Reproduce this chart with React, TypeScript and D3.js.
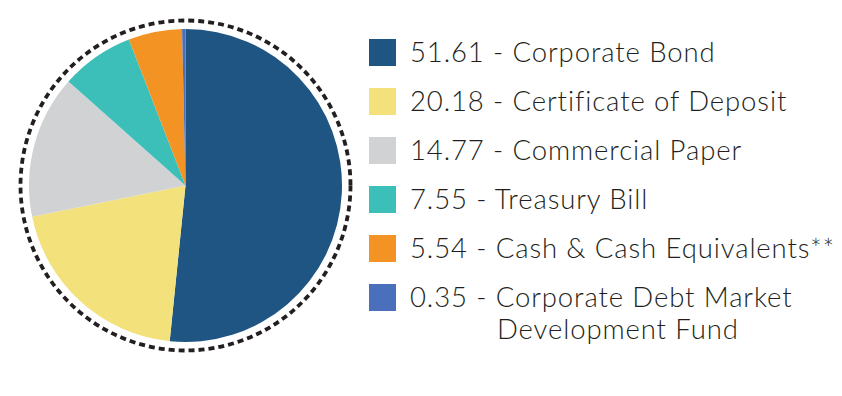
import { useEffect, useRef } from "react"
import * as d3 from "d3"

const labels = [
    "Corporate Bond",
    "Certificate of Deposit",
    "Commercial Paper",
    "Treasury Bill",
    "Cash & Cash Equivalents**",
    "Corporate Debt Market Development Fund",
]
const values = [51.61, 20.18, 14.77, 7.55, 5.54, 0.35]
const colors = ["#1f5582", "#f3e27c", "#d1d2d4", "#3bbfb8", "#f39324", "#4a6fbb"]
// legend line breaks
const legendLines = [
    ["51.61 - Corporate Bond"],
    ["20.18 - Certificate of Deposit"],
    ["14.77 - Commercial Paper"],
    ["7.55 - Treasury Bill"],
    ["5.54 - Cash & Cash Equivalents**"],
    ["0.35 - Corporate Debt Market", "Development Fund"],
]

export default function App() {
    const ref = useRef<SVGSVGElement>(null)

    useEffect(() => {
        const width = 842
        const height = 396
        const cx = 185.5
        const cy = 185.5
        const radius = 156.5

        const svg = d3.select(ref.current)
        svg.selectAll("*").remove()
        svg.attr("width", width).attr("height", height)

        const data = values.map((v, i) => ({ label: labels[i], value: v, color: colors[i] }))
        const pie = d3.pie<{ label: string; value: number; color: string }>()
            .sort(null)
            .value(d => d.value)
        const arc = d3.arc<d3.PieArcDatum<{ label: string; value: number; color: string }>>()
            .innerRadius(0)
            .outerRadius(radius)

        const g = svg.append("g").attr("transform", `translate(${cx}, ${cy})`)
        g.selectAll("path.slice")
            .data(pie(data))
            .join("path")
                .attr("class", "slice")
                .attr("d", arc)
                .attr("fill", d => d.data.color)

        // dotted outline
        g.append("circle")
            .attr("r", radius + 8.5)
            .attr("fill", "none")
            .attr("stroke", "#231f20")
            .attr("stroke-width", 3.8)
            .attr("stroke-dasharray", "6 4")

        // legend
        const rowY = d3.scaleLinear().domain([0, 1]).range([39, 88])
        const legend = svg.append("g")
        const rows = legend.selectAll("g.row")
            .data(data)
            .join("g")
                .attr("class", "row")
                .attr("transform", (_, i) => `translate(369, ${rowY(i)})`)
        rows.append("rect")
            .attr("width", 27)
            .attr("height", 27)
            .attr("fill", d => d.color)
        rows.each(function (_, i) {
            const lines = legendLines[i]
            lines.forEach((line, j) => {
                d3.select(this).append("text")
                    .attr("font-family", "Lato, sans-serif")
                    .attr("font-weight", 300)
                    .attr("font-size", 27.5)
                    .attr("letter-spacing", 0.9)
                    .attr("fill", "#231f20")
                    .attr("x", j === 0 ? 41 : 128)
                    .attr("y", 23 + j * 32)
                    .text(line)
            })
        })
    }, [])

    return (
        <svg ref={ref} style={{ position: "absolute", left: 0, top: 0, background: "#fff" }}></svg>
    )
}
